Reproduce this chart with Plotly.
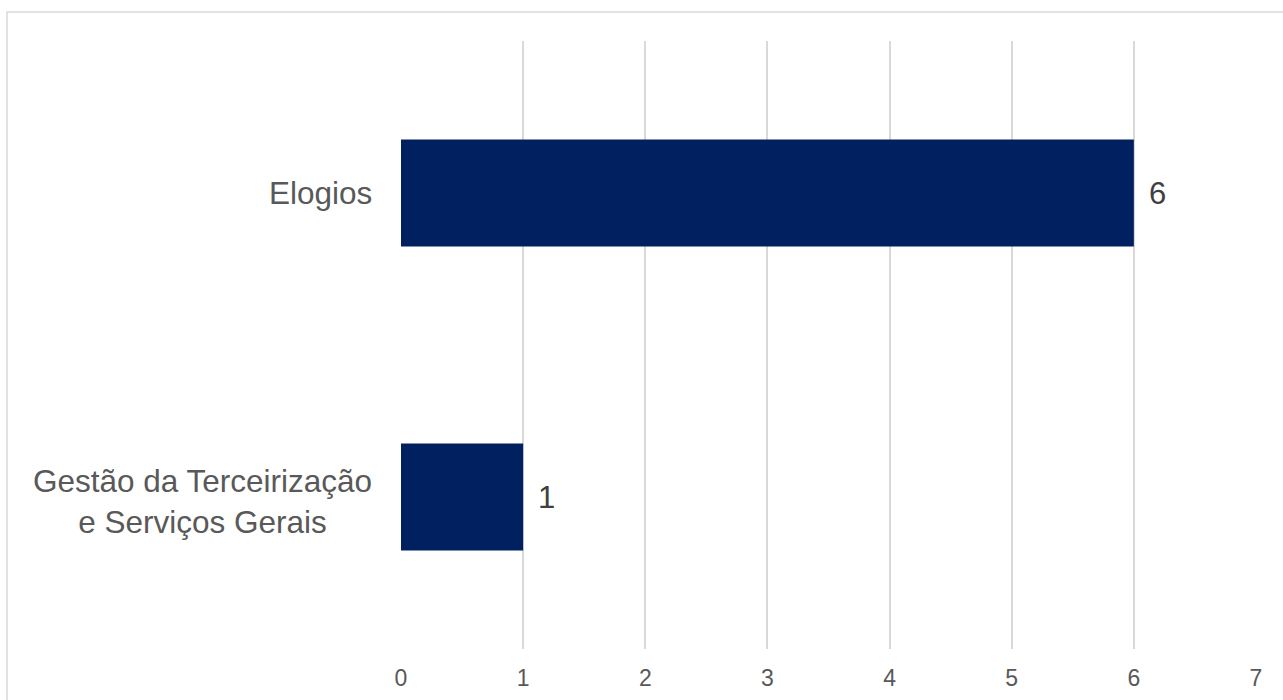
import plotly.graph_objects as go

categories = ["Elogios", "Gestão da Terceirização<br>e Serviços Gerais"]
values = [6, 1]
x_ticks = [0, 1, 2, 3, 4, 5, 6, 7]

FONT = "Liberation Sans, Arial, sans-serif"
BAR_COLOR = "#002060"
GRID = "#D9D9D9"

fig = go.Figure()
fig.add_trace(go.Bar(
    x=values,
    y=categories,
    orientation="h",
    marker=dict(color=BAR_COLOR, line=dict(width=0)),
    hoverinfo="skip",
))

# value labels right of bars
for c, v in zip(categories, values):
    fig.add_annotation(
        x=v, y=c, xref="x", yref="y",
        text=str(v), showarrow=False,
        xanchor="left", yanchor="middle", xshift=13,
        font=dict(family=FONT, size=31, color="#404040"),
    )

# category labels (centered multi-line)
for c in categories:
    fig.add_annotation(
        x=0, y=c, xref="paper", yref="y",
        text=c, showarrow=False, align="center",
        xanchor="right", yanchor="middle", xshift=-27,
        yshift=-4 if "<br>" in c else 0,
        font=dict(family=FONT, size=31.5, color="#595959"),
    )

# outer chart border
fig.add_shape(
    type="rect", xref="paper", yref="paper",
    x0=(7 - 401) / 855, x1=(1300 - 401) / 855,
    y0=(649 - 720) / 608, y1=(649 - 12) / 608,
    line=dict(color=GRID, width=1.5), fillcolor="rgba(0,0,0,0)", layer="below",
)

fig.update_layout(
    width=1283, height=700,
    margin=dict(l=401, r=27, t=41, b=51, autoexpand=False),
    paper_bgcolor="white", plot_bgcolor="white",
    bargap=0.648,
    showlegend=False,
    font=dict(family=FONT, color="#595959"),
    xaxis=dict(
        range=[0, 7], tickvals=x_ticks, ticktext=[str(t) for t in x_ticks],
        showgrid=True, gridcolor=GRID, gridwidth=1.5,
        zeroline=False, showline=False, ticks="",
        tickfont=dict(family=FONT, size=23, color="#595959"),
        ticklabelstandoff=13, automargin=False,
    ),
    yaxis=dict(
        autorange="reversed", showticklabels=False, showgrid=False,
        zeroline=False, showline=False, ticks="", automargin=False,
    ),
)

fig.write_html("out.html")
